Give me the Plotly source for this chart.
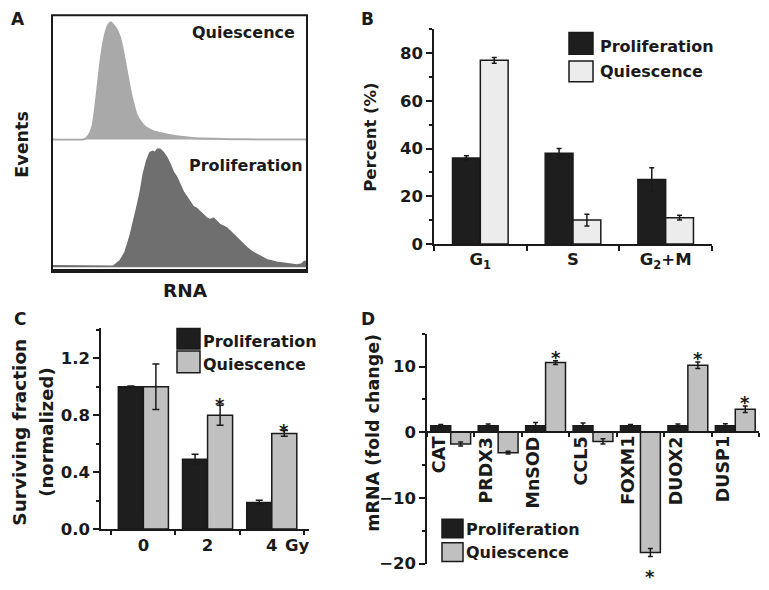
import plotly.graph_objects as go

W, H = 769, 590
OFF = 8  # the page adds an 8 px margin around the figure
def fx(p): return (p - OFF) / W
def fy(p): return 1 - (p - OFF) / H

# ---------------- data ----------------
# Panel A: RNA histograms (RNA channel 0-100, events in arbitrary units)
hist_rna_q = [0, 12.3, 13.6, 14.9, 16.0, 16.9, 17.8, 18.8, 19.9, 20.9, 22.1, 23.1, 24.0, 25.4,
              26.7, 28.0, 29.3, 30.6, 31.9, 33.2, 35.2, 37.1, 39.7, 43.6, 48.9, 54.1, 58.0,
              69.8, 81.6, 100]
hist_events_q = [0, 0, 1.7, 6.7, 15, 31.7, 51.7, 75, 95, 108, 116.7, 119.3, 116.7, 111.7,
                 103.3, 88.3, 70, 51.7, 36.7, 25, 16.7, 11.7, 8.3, 5.7, 3.3, 1.7, 1,
                 0.3, 0, 0]

hist_rna_p = [0, 18.8, 24.0, 26.7, 28.6, 30.6, 31.9, 33.2, 34.5, 35.8, 37.1, 38.4, 39.5, 40.4,
              41.3, 42.4, 43.7, 45.0, 46.3, 47.6, 48.9, 50.2, 51.5, 52.8, 54.1, 55.4, 56.7,
              58.0, 59.3, 60.7, 62.0, 63.3, 64.6, 65.9, 67.2, 68.5, 69.8, 71.1, 73.7, 76.4,
              78.9, 81.6, 84.2, 88.1, 92.0, 96.0, 97.9, 98.8, 100]
hist_events_p = [1.5, 1.5, 1, 6.7, 15, 31.7, 45, 60, 75, 95, 108, 116.7, 118, 116.7,
                 120, 120, 116.7, 111.7, 105, 96.7, 91.7, 83.3, 76.7, 71.7, 66.7, 61.7, 60,
                 56.7, 53.3, 50, 48.3, 50, 46.7, 43.3, 41.7, 40, 36.7, 33.3, 26.7, 20,
                 15, 11, 7.7, 5, 3.3, 2.3, 3.3, 5.7, 6]

# Panel B: cell-cycle distribution (%)
phases = ["G<sub>1</sub>", "S", "G<sub>2</sub>+M"]
phase_prolif = [36, 38, 27]
phase_prolif_err = [1, 2, 5]
phase_quies = [77, 10, 11]
phase_quies_err = [1.2, 2.5, 1]

# Panel C: surviving fraction
doses = ["0", "2", "4"]
surv_prolif = [1.0, 0.49, 0.187]
surv_prolif_err = [0.005, 0.035, 0.015]
surv_quies = [1.0, 0.80, 0.672]
surv_quies_err = [0.16, 0.07, 0.02]
surv_sig = [False, True, True]

# Panel D: mRNA fold change
genes = ["CAT", "PRDX3", "MnSOD", "CCL5", "FOXM1", "DUOX2", "DUSP1"]
mrna_prolif = [1.0, 1.0, 1.0, 1.0, 1.0, 1.0, 1.0]
mrna_prolif_err = [0.2, 0.25, 0.5, 0.4, 0.2, 0.25, 0.3]
mrna_quies = [-1.8, -3.1, 10.6, -1.4, -18.3, 10.2, 3.5]
mrna_quies_err = [0.3, 0.2, 0.3, 0.4, 0.6, 0.5, 0.5]
mrna_sig = [False, False, True, False, True, True, True]

# ---------------- styles ----------------
FONT = "DejaVu Sans"
INK = "#1a1a1a"
PROL = "#1e1e1e"
Q_B = "#ececec"
Q_CD = "#c0c0c0"
HIST_Q = "#a9a9a9"
HIST_P = "#6f6f70"

def f(size, color=INK):
    return dict(family=FONT, size=size, color=color, weight="bold")

fig = go.Figure()

# ---------- Panel A ----------
fig.add_trace(go.Scatter(x=hist_rna_q, y=hist_events_q, xaxis="x", yaxis="y", mode="lines",
                         line=dict(color=HIST_Q, width=2, shape="spline", smoothing=0.5),
                         fill="tozeroy", fillcolor=HIST_Q, hoverinfo="skip"))
fig.add_trace(go.Scatter(x=hist_rna_p, y=hist_events_p, xaxis="x2", yaxis="y2", mode="lines",
                         line=dict(color=HIST_P, width=1.5, shape="linear"),
                         fill="tozeroy", fillcolor=HIST_P, hoverinfo="skip"))

# ---------- bar helper ----------
def bars(xs, yv, ev, color, w, off, xa, ya, ecap):
    return go.Bar(x=xs, y=yv, xaxis=xa, yaxis=ya, width=w, offset=off,
                  marker=dict(color=color, line=dict(color=INK, width=1.5)),
                  error_y=dict(type="data", array=ev, color=INK, thickness=1.5, width=ecap),
                  hoverinfo="skip")

wB, wC, wD = 0.3, 0.39, 0.42
fig.add_trace(bars(phases, phase_prolif, phase_prolif_err, PROL, wB, -wB, "x3", "y3", 2.5))
fig.add_trace(bars(phases, phase_quies, phase_quies_err, Q_B, wB, 0, "x3", "y3", 2.5))
fig.add_trace(bars(doses, surv_prolif, surv_prolif_err, PROL, wC, -wC, "x4", "y4", 3.5))
fig.add_trace(bars(doses, surv_quies, surv_quies_err, Q_CD, wC, 0, "x4", "y4", 3.5))
fig.add_trace(bars(genes, mrna_prolif, mrna_prolif_err, PROL, wD, -wD, "x5", "y5", 2.5))
fig.add_trace(bars(genes, mrna_quies, mrna_quies_err, Q_CD, wD, 0, "x5", "y5", 2.5))

hidden = dict(visible=False, showgrid=False, zeroline=False, fixedrange=True)
axline = dict(showline=True, linecolor=INK, linewidth=1.5, showgrid=False, zeroline=False,
              ticks="outside", tickcolor=INK, tickwidth=1.5)

yD_bot, yD_top = 573.3, 339.3
zero_px = yD_bot - (0 - (-20)) / 35 * (yD_bot - yD_top)

fig.update_layout(
    width=W, height=H, margin=dict(l=0, r=0, t=0, b=0),
    paper_bgcolor="white", plot_bgcolor="white", showlegend=False, barmode="overlay",
    xaxis=dict(domain=[fx(52), fx(307)], range=[0, 100], anchor="y", **hidden),
    yaxis=dict(domain=[fy(143), fy(15)], range=[-1.3, 126.7], anchor="x", **hidden),
    xaxis2=dict(domain=[fx(52), fx(307)], range=[0, 100], anchor="y2", **hidden),
    yaxis2=dict(domain=[fy(277), fy(143)], range=[-5.3, 128.7], anchor="x2", **hidden),
    xaxis3=dict(domain=[fx(434), fx(712)], anchor="y3", type="category", range=[-0.5, 2.5],
                tickson="boundaries", ticklen=5, tickfont=f(16.5), **axline),
    yaxis3=dict(domain=[fy(248), fy(29)], anchor="x3", range=[0, 90.3], tickmode="linear",
                tick0=0, dtick=20, ticklen=6, tickfont=f(16.5),
                minor=dict(dtick=10, tick0=0, ticklen=3, ticks="outside", tickcolor=INK, tickwidth=1.5),
                **axline),
    xaxis4=dict(domain=[fx(101), fx(309)], anchor="y4", type="category", range=[-0.66, 2.58],
                tickson="boundaries", ticklen=4, tickfont=f(16.5), **axline),
    yaxis4=dict(domain=[fy(538), fy(334)], anchor="x4", range=[0, 1.41], tickmode="linear",
                tick0=0, dtick=0.4, tickformat=".1f", ticklen=6, tickfont=f(16.5),
                minor=dict(dtick=0.2, tick0=0, ticklen=3, ticks="outside", tickcolor=INK, tickwidth=1.5),
                **axline),
    xaxis5=dict(domain=[fx(427), fx(759)], anchor="free", position=fy(zero_px), type="category",
                range=[-0.5, 6.5], tickson="boundaries", ticklen=4, showticklabels=False, **axline),
    yaxis5=dict(domain=[fy(yD_bot), fy(yD_top)], anchor="x5", range=[-20, 15], tickmode="linear",
                tick0=0, dtick=10, ticklen=6, tickfont=f(16.5),
                minor=dict(dtick=5, tick0=0, ticklen=3, ticks="outside", tickcolor=INK, tickwidth=1.5),
                **axline),
)

anns = []
def pa(text, x, y, size, angle=0, xanchor="center", yanchor="middle"):
    anns.append(dict(text=text, x=fx(x), y=fy(y), xref="paper", yref="paper", showarrow=False,
                     font=f(size), textangle=angle, xanchor=xanchor, yanchor=yanchor))

# panel letters
pa("A", 18, 19, 17)
pa("B", 367, 19, 17)
pa("C", 20, 324, 17)
pa("D", 368, 324, 17)

# panel A labels
pa("Quiescence", 243, 33, 16)
pa("Proliferation", 246, 168, 16)
pa("Events", 22, 147, 17.5, angle=-90)
pa("RNA", 185, 295, 18.5)

# axis titles
pa("Percent (%)", 371, 140, 16.5, angle=-90)
pa("Surviving fraction", 20, 440, 18.5, angle=-90)
pa("(normalized)", 47, 440, 18, angle=-90)
pa("mRNA (fold change)", 373, 440, 17.5, angle=-90)
pa("Gy", 297, 555, 16.5)

# legends (drawn manually)
shapes = []
def legend(x0, x1, rows, tx):
    for (y0, y1, color, label, yc) in rows:
        shapes.append(dict(type="rect", xref="paper", yref="paper", x0=fx(x0), x1=fx(x1),
                           y0=fy(y1), y1=fy(y0), fillcolor=color, line=dict(color=INK, width=1.5)))
        pa(label, tx, yc, 16, xanchor="left")

legend(569, 593, [(33, 55, PROL, "Proliferation", 47), (62, 83, Q_B, "Quiescence", 73)], 598)
legend(177, 200, [(334, 355, PROL, "Proliferation", 347.5), (357, 379, Q_CD, "Quiescence", 370.5)], 201)
legend(442, 463, [(528, 547, PROL, "Proliferation", 538), (552, 571, Q_CD, "Quiescence", 562)], 464)

# panel A frame
shapes.append(dict(type="rect", xref="paper", yref="paper", x0=fx(52), x1=fx(307), y0=fy(276),
                   y1=fy(15.5), line=dict(color=INK, width=2)))
shapes.append(dict(type="line", xref="paper", yref="paper", x0=fx(51), x1=fx(308), y0=fy(275.5),
                   y1=fy(275.5), line=dict(color=INK, width=4)))

# significance stars
for i, (v, e, s) in enumerate(zip(surv_quies, surv_quies_err, surv_sig)):
    if s:
        anns.append(dict(text="*", x=i + wC / 2, y=v + e, xref="x4", yref="y4", showarrow=False,
                         font=f(18), yanchor="bottom", yshift=-12))
for i, (v, e, s) in enumerate(zip(mrna_quies, mrna_quies_err, mrna_sig)):
    if s:
        if v >= 0:
            anns.append(dict(text="*", x=i + wD / 2, y=v + e, xref="x5", yref="y5", showarrow=False,
                             font=f(18), yanchor="bottom", yshift=-9))
        else:
            anns.append(dict(text="*", x=i + wD / 2, y=v - e, xref="x5", yref="y5", showarrow=False,
                             font=f(18), yanchor="top", yshift=-8))

# gene labels (rotated, under the axis)
for i, g in enumerate(genes):
    anns.append(dict(text=g, x=i - wD / 2 - 0.05, y=0, xref="x5", yref="y5", showarrow=False,
                     font=f(17.5), textangle=-90, xanchor="center", yanchor="top", yshift=-2))

fig.update_layout(annotations=anns, shapes=shapes)
fig.write_html("out.html")
